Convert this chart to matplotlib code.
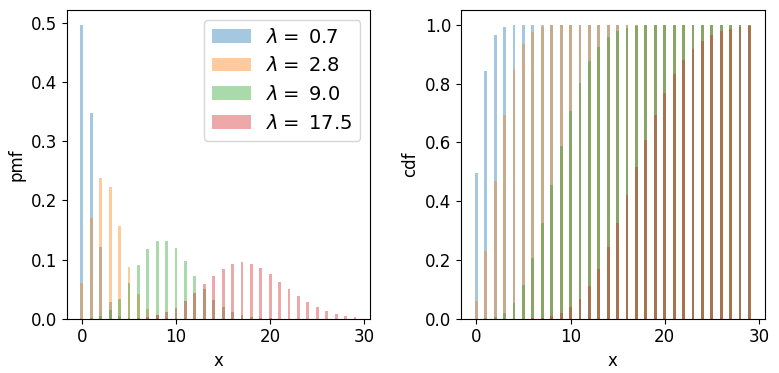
import numpy as np
import matplotlib
matplotlib.use("Agg")
import matplotlib.pyplot as plt

# x values and the four rate parameters
x = list(range(30))
lambdas = [0.7, 2.8, 9.0, 17.5]

# pmf
pmf_07 = [0.497, 0.348, 0.122, 0.028, 0.005, 0.0007, 0.0001] + [0.0] * 23
pmf_28 = [0.061, 0.170, 0.238, 0.222, 0.156, 0.087, 0.041, 0.016, 0.006, 0.002,
          0.0005, 0.0001] + [0.0] * 18
pmf_90 = [0.0001, 0.0011, 0.005, 0.015, 0.034, 0.061, 0.091, 0.117, 0.132, 0.132,
          0.119, 0.097, 0.073, 0.050, 0.032, 0.019, 0.011, 0.0058, 0.0029, 0.0014,
          0.0006, 0.0003, 0.0001] + [0.0] * 7
pmf_175 = [0.0, 0.0, 0.0, 0.0, 0.0001, 0.0003, 0.001, 0.0025, 0.0055, 0.0106,
           0.0186, 0.0296, 0.0432, 0.0582, 0.0727, 0.0848, 0.0928, 0.0955, 0.0928, 0.0855,
           0.0748, 0.0623, 0.0496, 0.0377, 0.0275, 0.0193, 0.0130, 0.0084, 0.0053, 0.0032]

# cdf
cdf_07 = [0.497, 0.844, 0.966, 0.994, 0.999, 1.0, 1.0] + [1.0] * 23
cdf_28 = [0.061, 0.231, 0.469, 0.692, 0.848, 0.935, 0.976, 0.992, 0.998, 0.9994,
          0.9999] + [1.0] * 19
cdf_90 = [0.0001, 0.0012, 0.0062, 0.021, 0.055, 0.116, 0.207, 0.324, 0.456, 0.587,
          0.706, 0.803, 0.876, 0.926, 0.959, 0.978, 0.989, 0.995, 0.998, 0.9991,
          0.9996, 0.9999] + [1.0] * 8
cdf_175 = [0.0, 0.0, 0.0, 0.0, 0.0001, 0.0005, 0.0015, 0.004, 0.0094, 0.0201,
           0.0387, 0.0683, 0.1115, 0.1697, 0.2424, 0.3272, 0.4199, 0.5154, 0.6082, 0.6937,
           0.7685, 0.8309, 0.8805, 0.9182, 0.9457, 0.9650, 0.9780, 0.9864, 0.9916, 0.9948]

pmfs = [pmf_07, pmf_28, pmf_90, pmf_175]
cdfs = [cdf_07, cdf_28, cdf_90, cdf_175]

plt.rcParams["font.size"] = 12

fig, (ax1, ax2) = plt.subplots(1, 2, figsize=(7.79, 3.73), dpi=100)
fig.subplots_adjust(left=0.0856, right=0.9816, bottom=0.1456, top=0.973, wspace=0.30)

for lam, p, c in zip(lambdas, pmfs, cdfs):
    ax1.bar(x, p, width=0.3, alpha=0.4, label=rf"$\lambda = $ {lam}")
    ax2.bar(x, c, width=0.3, alpha=0.4)

ax1.set_xlabel("x")
ax1.set_ylabel("pmf")
ax1.legend(fontsize=14, loc="upper right")

ax2.set_xlabel("x")
ax2.set_ylabel("cdf")

plt.savefig("out.png", dpi=100)
